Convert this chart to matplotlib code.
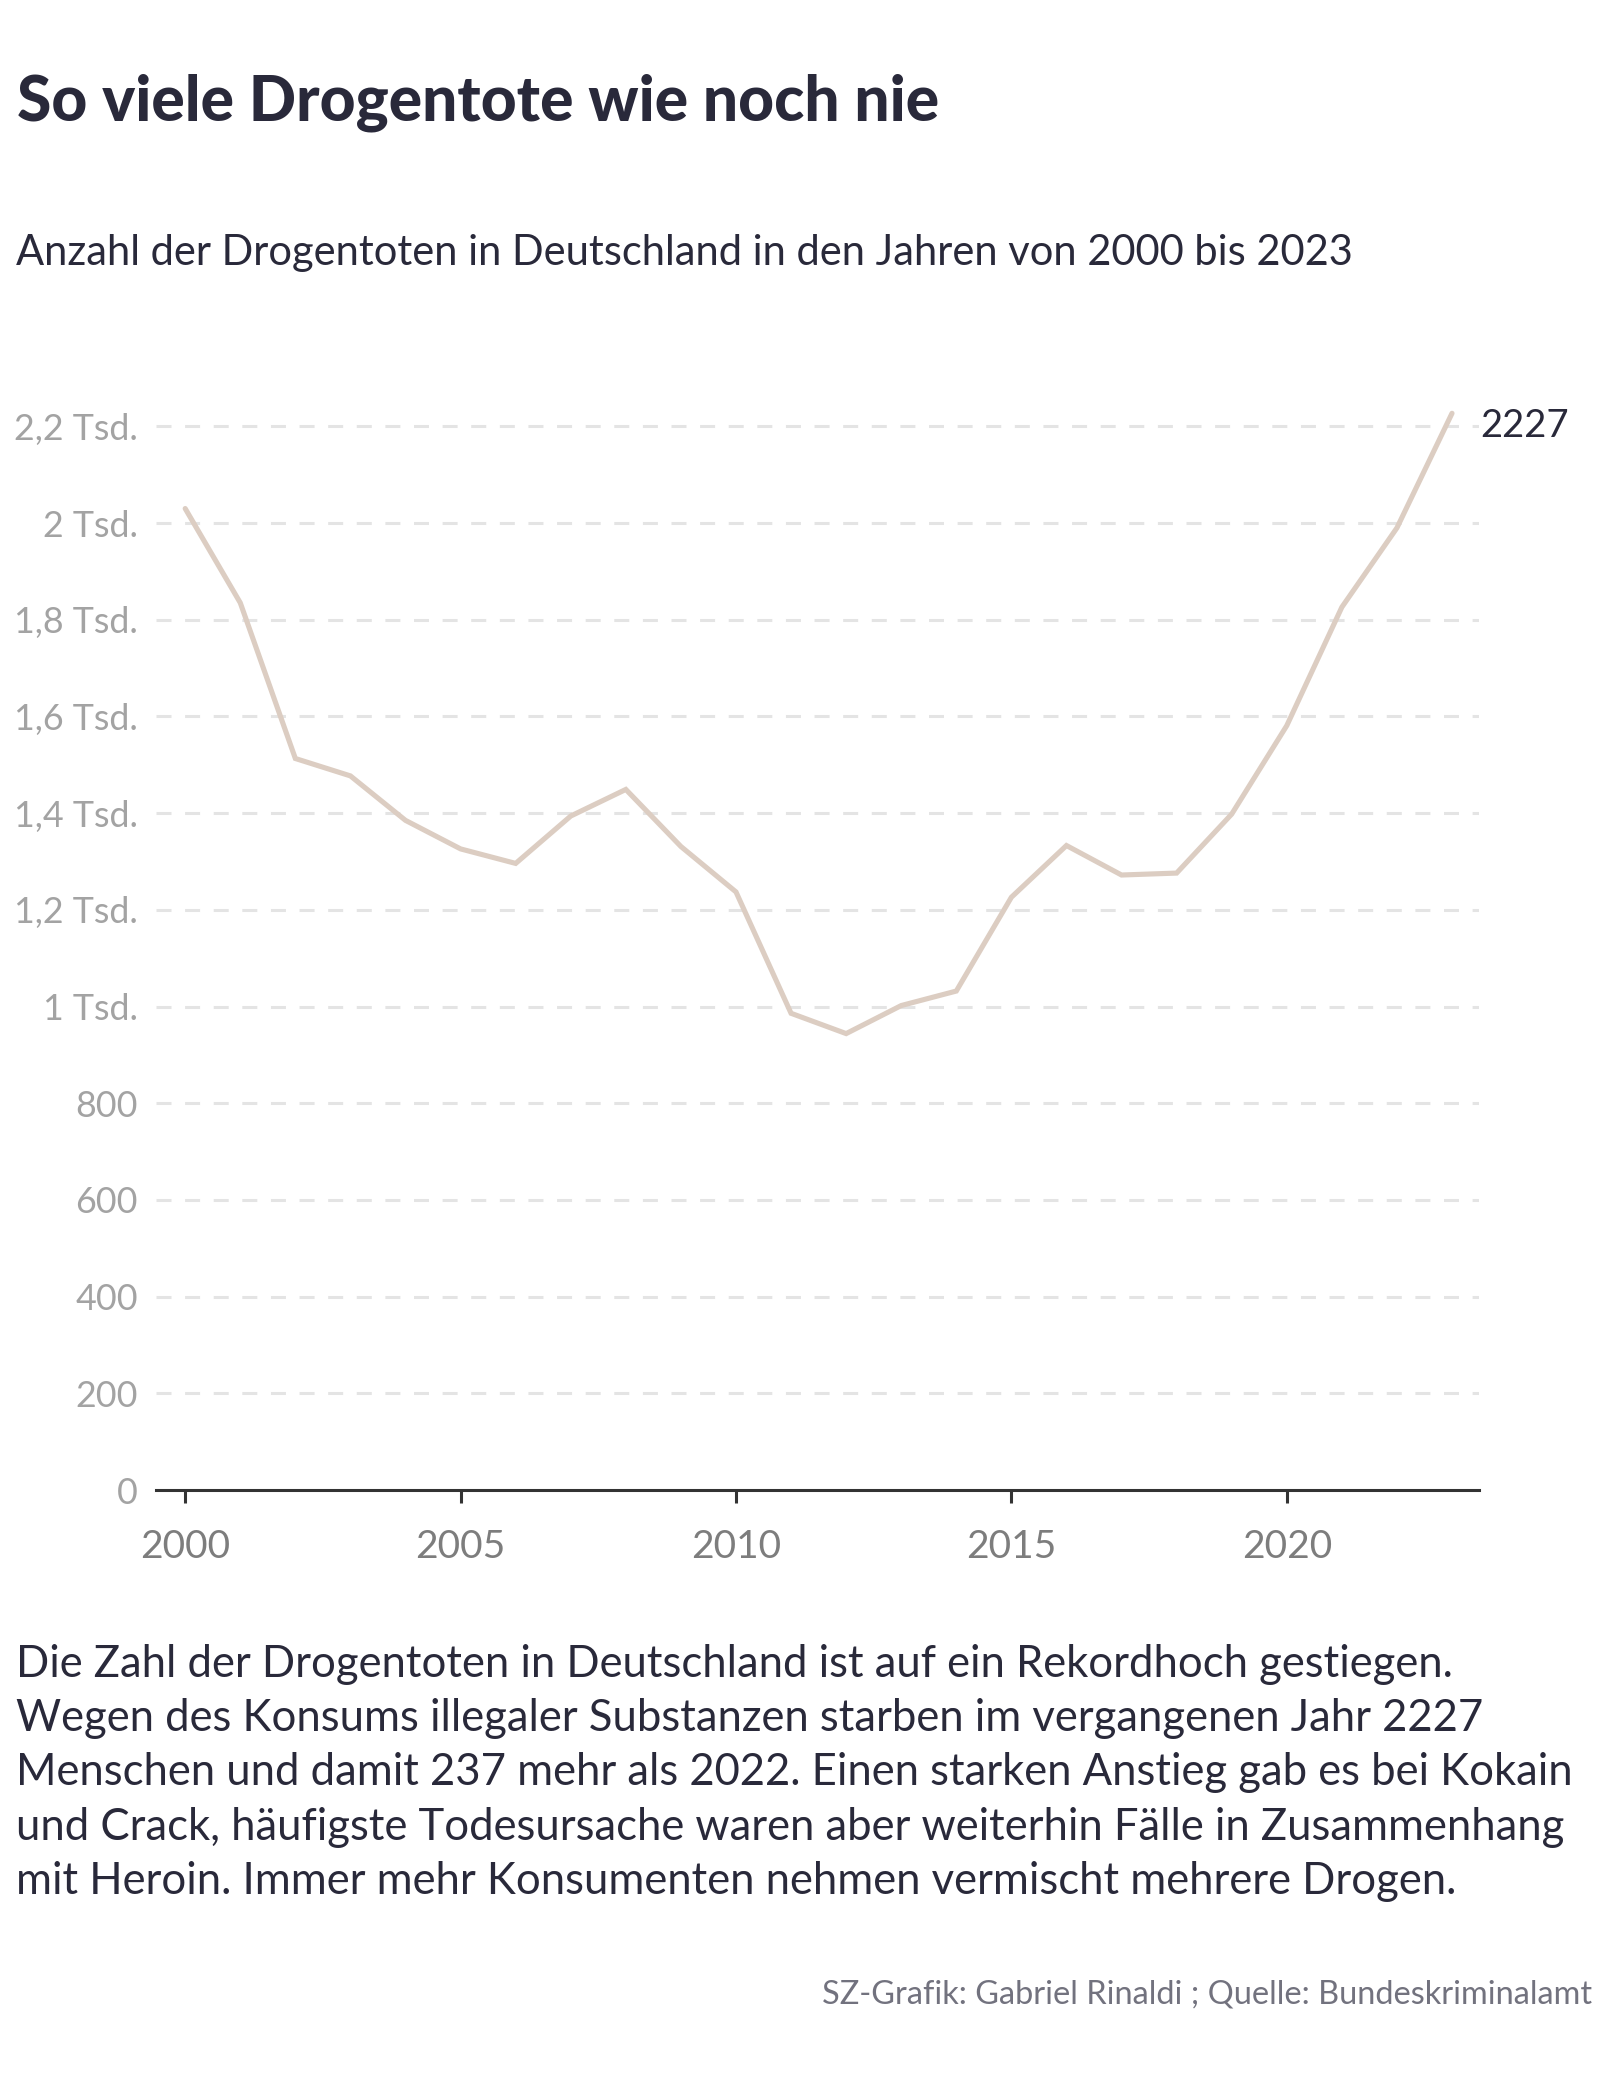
import matplotlib
matplotlib.use("Agg")
import matplotlib.pyplot as plt
from matplotlib.ticker import FixedLocator, FuncFormatter

plt.rcParams['lines.scale_dashes'] = False
plt.rcParams['font.family'] = ['Lato', 'DejaVu Sans']

years = list(range(2000, 2024))
deaths = [2030, 1835, 1513, 1477, 1385, 1326, 1296, 1394, 1449, 1331, 1237, 986,
          944, 1002, 1032, 1226, 1333, 1272, 1276, 1398, 1581, 1826, 1990, 2227]
y_ticks = [0, 200, 400, 600, 800, 1000, 1200, 1400, 1600, 1800, 2000, 2200]
x_ticks = [2000, 2005, 2010, 2015, 2020]

title = "So viele Drogentote wie noch nie"
subtitle = "Anzahl der Drogentoten in Deutschland in den Jahren von 2000 bis 2023"
body = ["Die Zahl der Drogentoten in Deutschland ist auf ein Rekordhoch gestiegen.",
        "Wegen des Konsums illegaler Substanzen starben im vergangenen Jahr 2227",
        "Menschen und damit 237 mehr als 2022. Einen starken Anstieg gab es bei Kokain",
        "und Crack, häufigste Todesursache waren aber weiterhin Fälle in Zusammenhang",
        "mit Heroin. Immer mehr Konsumenten nehmen vermischt mehrere Drogen."]
source = "SZ-Grafik: Gabriel Rinaldi ; Quelle: Bundeskriminalamt"

W, H = 1608, 2090
fig = plt.figure(figsize=(W / 100, H / 100), dpi=100)
fig.patch.set_facecolor('white')

def fx(px):
    return px / W

def fy(py):
    return 1 - py / H

dark = '#29293a'

ax = fig.add_axes([fx(156), fy(1490), fx(1479) - fx(156), fy(378) - fy(1490)])
ax.set_xlim(1999.47, 2023.49)
ax.set_ylim(0, 2300)

for v in y_ticks[1:]:
    ax.axhline(v, color='#e4e4e4', lw=2.2, dashes=(10.8, 9.8), zorder=1)

ax.plot(years, deaths, color='#dccdc2', lw=3.7, solid_capstyle='round',
        solid_joinstyle='miter', zorder=3)

ax.annotate(f"{deaths[-1]}", xy=(years[-1], deaths[-1]), xycoords='data',
            xytext=(20, -17.3), textcoords='offset points', color=dark,
            fontsize=27.5, va='baseline', ha='left', annotation_clip=False)

for s in ['top', 'right', 'left']:
    ax.spines[s].set_visible(False)
ax.spines['bottom'].set_color('#333333')
ax.spines['bottom'].set_linewidth(2.2)

ax.yaxis.set_major_locator(FixedLocator(y_ticks))

def yfmt(v, pos):
    if v >= 1000:
        t = v / 1000
        s = f"{t:.1f}".rstrip('0').rstrip('.').replace('.', ',')
        return f"{s} Tsd."
    return f"{int(v)}"

ax.yaxis.set_major_formatter(FuncFormatter(yfmt))
ax.tick_params(axis='y', length=0, pad=13, labelsize=25.8, labelcolor='#a3a3a3')
ax.xaxis.set_major_locator(FixedLocator(x_ticks))
ax.tick_params(axis='x', length=9, width=2.2, color='#333333', pad=19,
               labelsize=28, labelcolor='#7d7d7d')

fig.text(fx(17), fy(120), title, fontsize=44.8, fontweight='black', color=dark,
         ha='left', va='baseline')
fig.text(fx(16), fy(265), subtitle, fontsize=30, color=dark, ha='left', va='baseline')

for i, line in enumerate(body):
    fig.text(fx(16), fy(1677 + i * 54.2), line, fontsize=31.4, color=dark,
             ha='left', va='baseline')

fig.text(fx(1592), fy(2003), source, fontsize=23.4, color='#72727e',
         ha='right', va='baseline')

fig.savefig("out.png", dpi=100, facecolor='white')
